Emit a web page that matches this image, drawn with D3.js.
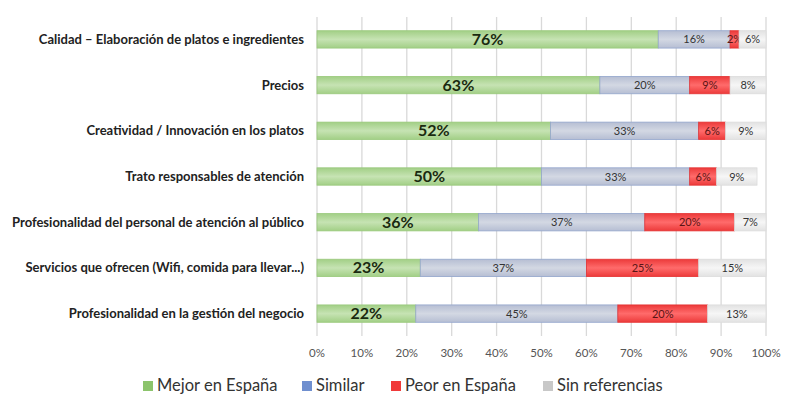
<!DOCTYPE html>
<html><head><meta charset="utf-8">
<script src="https://cdn.jsdelivr.net/npm/d3@7"></script>
<style>body{margin:0;background:#fff}svg{display:block}</style>
</head><body><svg id="c" width="800" height="416"></svg>
<script>
const categories = [
  "Calidad – Elaboración de platos e ingredientes",
  "Precios",
  "Creatividad / Innovación en los platos",
  "Trato responsables de atención",
  "Profesionalidad del personal de atención al público",
  "Servicios que ofrecen (Wifi, comida para llevar...)",
  "Profesionalidad en la gestión del negocio"
];
const seriesNames = ["Mejor en España","Similar","Peor en España","Sin referencias"];
const mejor = [76,63,52,50,36,23,22];
const similar = [16,20,33,33,37,37,45];
const peor = [2,9,6,6,20,25,20];
const sinRef = [6,8,9,9,7,15,13];
const ticks = [0,10,20,30,40,50,60,70,80,90,100];

const svg = d3.select("#c");
const m = {l:317, r:766, t:17, b:336};
const x = d3.scaleLinear().domain([0,100]).range([m.l, m.r]);
const y = d3.scaleBand().domain(categories).range([m.t, m.b]).paddingInner(0.62).paddingOuter(0.3);

const colors = [
  {top:"#c6e3b3", bot:"#a2cf86", stroke:"#9ac97c", legend:"#8cc46c"},
  {top:"#d3d8e3", bot:"#b6bed3", stroke:"#93a6cc", legend:"#6f8fcf"},
  {top:"#ff6b6b", bot:"#ec3a3a", stroke:"#e43434", legend:"#f03a3a"},
  {top:"#f6f6f6", bot:"#e2e2e2", stroke:"#dcdcdc", legend:"#c8c8c8"}
];
const defs = svg.append("defs");
colors.forEach((c,i)=>{
  const g = defs.append("linearGradient").attr("id","g"+i).attr("x1",0).attr("x2",0).attr("y1",0).attr("y2",1);
  g.append("stop").attr("offset","0%").attr("stop-color",c.bot);
  g.append("stop").attr("offset","50%").attr("stop-color",c.top);
  g.append("stop").attr("offset","100%").attr("stop-color",c.bot);
});

// gridlines
svg.append("g").selectAll("line").data(ticks).join("line")
  .attr("x1",d=>x(d)).attr("x2",d=>x(d)).attr("y1",m.t).attr("y2",m.b)
  .attr("stroke","#d9d9d9").attr("stroke-width",1.3);

// tick labels
svg.append("g").selectAll("text").data(ticks).join("text")
  .attr("x",d=>x(d)).attr("y",357).attr("text-anchor","middle")
  .attr("font-family","Lato, 'Open Sans', sans-serif").attr("font-size",11.5).attr("fill","#555")
  .text(d=>d+"%");

// category labels
svg.append("g").selectAll("text").data(categories).join("text")
  .attr("x",304).attr("y",d=>y(d)+y.bandwidth()/2+4.5).attr("text-anchor","end")
  .attr("font-family","Lato, 'Open Sans', sans-serif").attr("font-size",13).attr("font-weight",700).attr("fill","#222")
  .text(d=>d);

const series = [mejor, similar, peor, sinRef];
const rows = categories.map((c,i)=>{
  let acc=0;
  return series.map((s,k)=>{ const o={cat:c,k:k,v:s[i],x0:acc,x1:acc+s[i]}; acc+=s[i]; return o;});
});
const seg = svg.append("g").selectAll("g").data(rows).join("g").selectAll("g").data(d=>d).join("g");
seg.append("rect")
  .attr("x",d=>x(d.x0)).attr("width",d=>x(d.x1)-x(d.x0))
  .attr("y",d=>y(d.cat)).attr("height",y.bandwidth())
  .attr("fill",d=>`url(#g${d.k})`).attr("stroke",d=>colors[d.k].stroke).attr("stroke-width",0.8);
seg.append("text")
  .attr("x",d=>(x(d.x0)+x(d.x1))/2).attr("y",d=>y(d.cat)+y.bandwidth()/2+(d.k===0?5.5:4))
  .attr("text-anchor","middle")
  .attr("font-family","Lato, 'Open Sans', sans-serif")
  .attr("font-size",d=>d.k===0?16:11).attr("font-weight",d=>d.k===0?700:400)
  .attr("fill",d=>d.k===0?"#1a2a10":(d.k===2?"#5a1414":"#333"))
  .text(d=>d.v+"%");

// legend
const lx = [143, 302, 391, 543];
const lg = svg.append("g").selectAll("g").data(seriesNames).join("g")
  .attr("transform",(d,i)=>`translate(${lx[i]},386)`);
lg.append("rect").attr("x",0).attr("y",-5).attr("width",10).attr("height",10).attr("fill",(d,i)=>colors[i].legend);
lg.append("text").attr("x",14).attr("y",5)
  .attr("font-family","Lato, 'Open Sans', sans-serif").attr("font-size",16.5).attr("fill","#333")
  .text(d=>d);
</script></body></html>
